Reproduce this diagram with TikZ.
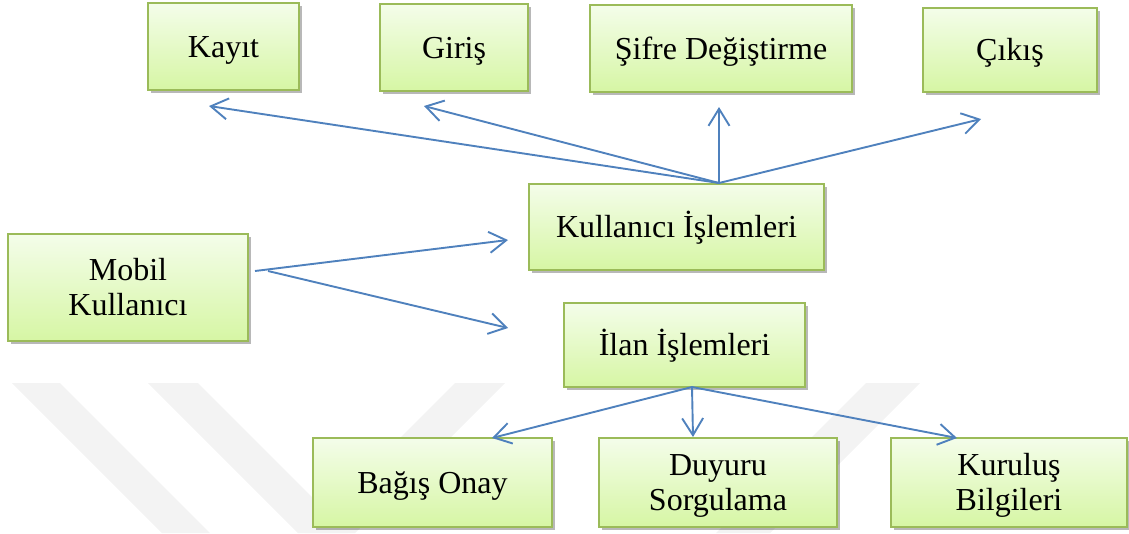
\documentclass[tikz,border=0pt]{standalone}
\usepackage{fontspec}
\setmainfont{Liberation Serif}
\usetikzlibrary{arrows.meta,shadows}
\definecolor{boxborder}{RGB}{155,187,89}
\definecolor{boxtop}{RGB}{244,253,234}
\definecolor{boxbot}{RGB}{214,246,164}
\definecolor{arrowblue}{RGB}{79,129,189}
\definecolor{wmgray}{RGB}{243,243,243}
\newcommand\twoline[2]{\begin{tabular}[b]{@{}c@{}}#1\\#2\end{tabular}}
\begin{document}
\begin{tikzpicture}[x=1pt,y=-1pt,
  box/.style={draw=boxborder, line width=2pt, top color=boxtop, bottom color=boxbot,
    drop shadow={shadow xshift=2.5pt, shadow yshift=-3pt, opacity=0.28, fill=black},
    inner sep=0pt, font=\fontsize{32}{35}\selectfont, text height=21pt, text depth=0pt},
  link/.style={draw=arrowblue, line width=1.9pt, -{Straight Barb[length=17pt,width=21pt]}},
  band/.style={fill=wmgray, draw=none}]
\useasboundingbox (0,0) rectangle (1129,533);
\clip (0,0) rectangle (1129,533);
% watermark bands
\fill[band] (12,383) -- (60,383) -- (210,533) -- (162,533) -- cycle;
\fill[band] (148,383) -- (198,383) -- (348,533) -- (298,533) -- cycle;
\fill[band] (455,383) -- (505,383) -- (355,533) -- (305,533) -- cycle;
\fill[band] (866,383) -- (920,383) -- (770,533) -- (716,533) -- cycle;
% boxes
\node[box, minimum width=151pt, minimum height=87pt] (kayit) at (223.5,46.5) {Kayıt};
\node[box, minimum width=148pt, minimum height=87pt] (giris) at (454,47.5) {Giriş};
\node[box, minimum width=262pt, minimum height=87pt] (sifre) at (721,48.5) {Şifre Değiştirme};
\node[box, minimum width=174pt, minimum height=84pt] (cikis) at (1010,49.5) {Çıkış};
\node[box, minimum width=295pt, minimum height=86pt] (kullanici) at (676.5,227) {Kullanıcı İşlemleri};
\node[box, minimum width=240pt, minimum height=107pt, text height=56pt, text depth=-6pt] (mobil) at (128,287.5) {\twoline{Mobil}{Kullanıcı}};
\node[box, minimum width=241pt, minimum height=84pt, text depth=-3pt] (ilan) at (684.5,345) {İlan İşlemleri};
\node[box, minimum width=239pt, minimum height=89pt, text depth=-8pt] (bagis) at (432.5,482.5) {Bağış Onay};
\node[box, minimum width=238pt, minimum height=89pt, text height=56pt, text depth=-17pt] (duyuru) at (718,482.5) {\twoline{Duyuru}{Sorgulama}};
\node[box, minimum width=236pt, minimum height=89pt, text height=56pt, text depth=-17pt] (kurulus) at (1009,482.5) {\twoline{Kuruluş}{Bilgileri}};
% connector end points
\coordinate (k0) at (719,183);
\coordinate (tkayit) at (209,106);
\coordinate (tgiris) at (424,106);
\coordinate (tsifre) at (719,107);
\coordinate (tcikis) at (981,119);
\coordinate (m1) at (255,271);
\coordinate (m2) at (268,271);
\coordinate (tkul) at (508,240);
\coordinate (tilan) at (508,328);
\coordinate (i0) at (692,387);
\coordinate (tbagis) at (492,438);
\coordinate (tduyuru) at (693,437);
\coordinate (tkurulus) at (957,438);
% connectors
\draw[link] (k0) -- (tkayit);
\draw[link] (k0) -- (tgiris);
\draw[link] (k0) -- (tsifre);
\draw[link] (k0) -- (tcikis);
\draw[link] (m1) -- (tkul);
\draw[link] (m2) -- (tilan);
\draw[link] (i0) -- (tbagis);
\draw[link] (i0) -- (tduyuru);
\draw[link] (i0) -- (tkurulus);
\end{tikzpicture}
\end{document}
